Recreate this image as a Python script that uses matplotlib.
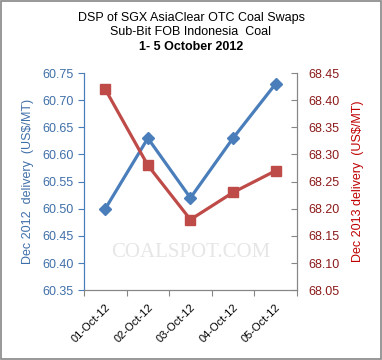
import matplotlib.pyplot as plt
from matplotlib.patches import Rectangle

plt.rcParams['font.family'] = ['Liberation Sans', 'DejaVu Sans']

# Data
dates = ['01-Oct-12', '02-Oct-12', '03-Oct-12', '04-Oct-12', '05-Oct-12']
dec2012 = [60.50, 60.63, 60.52, 60.63, 60.73]
dec2013 = [68.42, 68.28, 68.18, 68.23, 68.27]
left_ticks = [60.35, 60.40, 60.45, 60.50, 60.55, 60.60, 60.65, 60.70, 60.75]
right_ticks = [68.05, 68.10, 68.15, 68.20, 68.25, 68.30, 68.35, 68.40, 68.45]

blue = '#4A7EBB'
red = '#BE4B48'
blue_txt = '#3F6FA8'
red_txt = '#8B1A1A'
grey = '#868686'

fig = plt.figure(figsize=(3.82, 3.6), dpi=100)
ax = fig.add_axes([0.22, 0.194, 0.557, 0.603])
ax2 = ax.twinx()

x = range(len(dates))
ax.plot(x, dec2012, color=blue, lw=2.3, marker='D', ms=6, zorder=3)
ax2.plot(x, dec2013, color=red, lw=2.3, marker='s', ms=7.5, zorder=3)

ax.set_xlim(-0.5, len(dates) - 0.5)
ax.set_ylim(60.35, 60.75)
ax2.set_ylim(68.05, 68.45)
ax.set_yticks(left_ticks)
ax.set_yticklabels(['%.2f' % v for v in left_ticks])
ax2.set_yticks(right_ticks)
ax2.set_yticklabels(['%.2f' % v for v in right_ticks])

# category boundaries as major ticks, labels on the category centres
ax.set_xticks([i - 0.5 for i in range(len(dates) + 1)], minor=False)
ax.set_xticklabels([''] * (len(dates) + 1))
ax.set_xticks(list(x), minor=True)
ax.set_xticklabels(dates, minor=True, rotation=45, ha='right', rotation_mode='anchor', fontsize=8)
ax.tick_params(axis='x', which='minor', length=0, pad=9)
ax.tick_params(axis='x', which='major', length=4, color=grey)

ax.tick_params(axis='y', colors=blue, labelcolor=blue_txt, labelsize=9, length=4, direction='out')
ax2.tick_params(axis='y', colors=grey, labelcolor=red_txt, labelsize=9, length=4, direction='in', pad=8)

for a in (ax, ax2):
    a.spines['top'].set_visible(False)
    a.spines['bottom'].set_color(grey)
    a.spines['left'].set_color(blue)
    a.spines['right'].set_color(grey)

ax.set_ylabel('Dec 2012  delivery  (US$/MT)', color=blue_txt, fontsize=9, labelpad=6)
ax2.set_ylabel('Dec 2013 delivery  (US$/MT)', color='#C00000', fontsize=9, labelpad=9)

fig.text(0.5, 0.951, 'DSP of SGX AsiaClear OTC Coal Swaps', ha='center', va='center', fontsize=9)
fig.text(0.5, 0.910, 'Sub-Bit FOB Indonesia  Coal', ha='center', va='center', fontsize=9)
fig.text(0.5, 0.870, '1- 5 October 2012', ha='center', va='center', fontsize=9, fontweight='bold')

# watermark
ax.text(0.5, 0.175, 'COALSPOT.COM', transform=ax.transAxes, ha='center', va='center',
        fontsize=15, color='#E6E6E6', family=['Liberation Serif', 'DejaVu Serif'], zorder=1)

fig.patches.append(Rectangle((0.003, 0.004), 0.994, 0.992, transform=fig.transFigure,
                             fill=False, edgecolor=grey, lw=1.2))

fig.savefig('out.png', dpi=100)
